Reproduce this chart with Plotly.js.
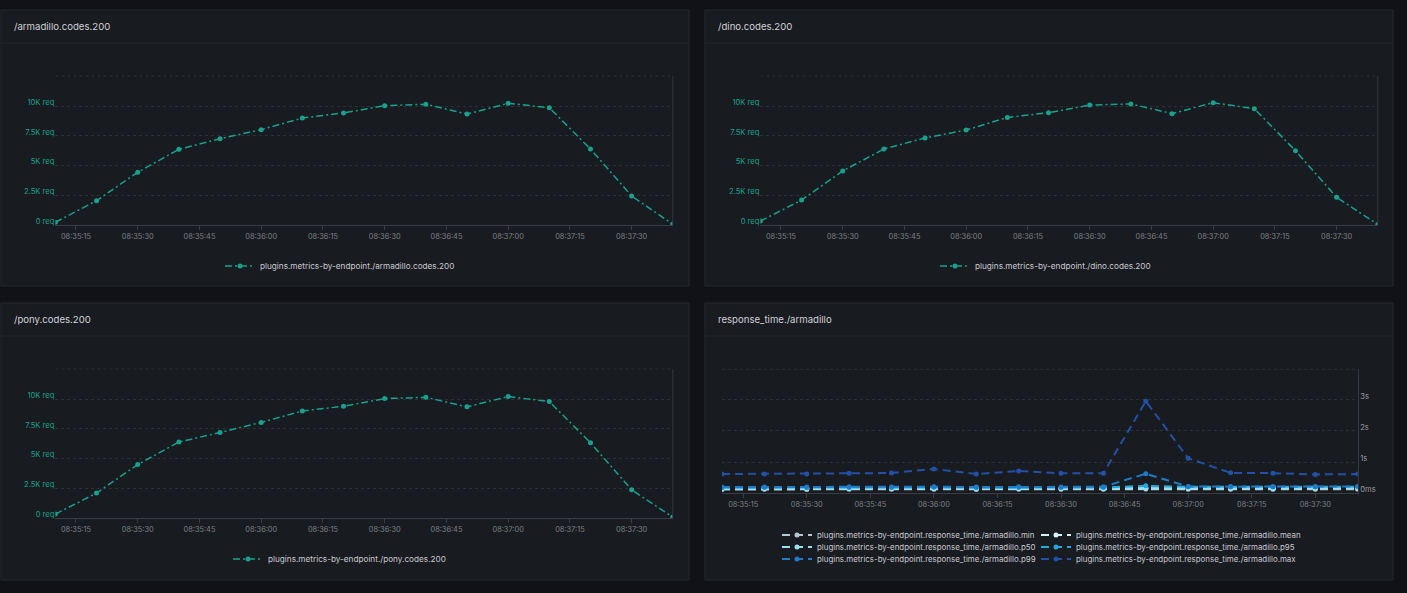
<!DOCTYPE html>
<html>
<head>
<meta charset="utf-8">
<script src="https://cdn.plot.ly/plotly-3.0.1.min.js"></script>
<style>
  html, body { margin: 0; padding: 0; background: #111217; }
  #plot { width: 1407px; height: 593px; }
</style>
</head>
<body>
<div id="plot"></div>
<script>
// sample times (every 10s)
var times = ['08:35:10', '08:35:20', '08:35:30', '08:35:40', '08:35:50', '08:36:00', '08:36:10', '08:36:20',
             '08:36:30', '08:36:40', '08:36:50', '08:37:00', '08:37:10', '08:37:20', '08:37:30', '08:37:40'];

// requests with code 200, per endpoint
var armadillo = [230, 2050, 4440, 6380, 7270, 8030, 9010, 9440, 10050, 10170, 9350, 10250, 9880, 6400, 2440, 60];
var dino      = [330, 2100, 4550, 6400, 7330, 8000, 9060, 9460, 10100, 10200, 9380, 10300, 9800, 6260, 2330, 50];
var pony      = [330, 2100, 4500, 6400, 7200, 8050, 9020, 9410, 10060, 10170, 9360, 10230, 9810, 6340, 2370, 80];

// response_time./armadillo in ms
var rtMin  = [115, 118, 115, 120, 118, 120, 115, 120, 118, 118, 125, 120, 118, 118, 120, 118];
var rtMean = [150, 152, 150, 155, 152, 158, 150, 155, 152, 152, 170, 160, 158, 158, 160, 160];
var rtP50  = [140, 142, 140, 145, 142, 148, 140, 145, 142, 142, 150, 150, 150, 150, 150, 150];
var rtP95  = [170, 175, 170, 178, 175, 182, 170, 180, 175, 178, 230, 200, 200, 200, 198, 205];
var rtP99  = [190, 195, 190, 200, 195, 205, 190, 200, 195, 203, 620, 210, 205, 205, 200, 210];
var rtMax  = [613, 613, 613, 635, 645, 774, 613, 710, 635, 635, 2960, 1120, 650, 640, 600, 610];

var codeTicks = [0, 2500, 5000, 7500, 10000];
var codeTickText = ['0 req', '2.5K req', '5K req', '7.5K req', '10K req'];
var rtTicks = [0, 1000, 2000, 3000];
var rtTickText = ['0ms', '1s', '2s', '3s'];

var W = 1407, H = 593;
var day = '2024-01-01 ';
var x = times.map(function (t) { return day + t; });

var teal = '#1aa18d';
var fontFam = 'Inter, "Open Sans", sans-serif';

function px(v) { return v / W; }
function py(v) { return 1 - v / H; }

function codeTrace(name, vals, xa, ya, leg) {
  return {
    x: x, y: vals, name: name, type: 'scatter', mode: 'lines+markers',
    xaxis: xa, yaxis: ya, legend: leg,
    line: { color: teal, width: 1.5, dash: '7px,3px,2px,3px' },
    marker: { color: teal, size: 5 }
  };
}

function rtTrace(name, vals, color, leg, lw) {
  return {
    x: x, y: vals, name: name, type: 'scatter', mode: 'lines+markers',
    xaxis: 'x4', yaxis: 'y4', legend: leg, legendwidth: lw,
    line: { color: color, width: 2, dash: '8px,5px' },
    marker: { color: color, size: 5 }
  };
}

var pre = 'plugins.metrics-by-endpoint.response_time./armadillo.';
var data = [
  codeTrace('plugins.metrics-by-endpoint./armadillo.codes.200', armadillo, 'x', 'y', 'legend'),
  codeTrace('plugins.metrics-by-endpoint./dino.codes.200', dino, 'x2', 'y2', 'legend2'),
  codeTrace('plugins.metrics-by-endpoint./pony.codes.200', pony, 'x3', 'y3', 'legend3'),
  rtTrace(pre + 'min', rtMin, '#b3c9cf', 'legend4', 214),
  rtTrace(pre + 'mean', rtMean, '#d4f4fa', 'legend4', 260),
  rtTrace(pre + 'p50', rtP50, '#9ae0f5', 'legend5', 214),
  rtTrace(pre + 'p95', rtP95, '#24a8e0', 'legend5', 260),
  rtTrace(pre + 'p99', rtP99, '#1f7bc8', 'legend6', 214),
  rtTrace(pre + 'max', rtMax, '#2350a8', 'legend6', 260)
];

function xaxis(left, right, anchor) {
  return {
    type: 'date', domain: [px(left), px(right)], anchor: anchor,
    range: [x[0], x[x.length - 1]],
    tick0: day + '08:35:15', dtick: 15000, tickformat: '%H:%M:%S',
    showgrid: false, zeroline: false,
    showline: true, linecolor: '#3a3d44', linewidth: 1,
    ticks: 'outside', ticklen: 4, tickcolor: '#3a3d44',
    tickfont: { family: fontFam, size: 7.4, color: '#7d8087' }
  };
}

function codeYaxis(top, bottom, anchor) {
  return {
    domain: [py(bottom), py(top)], anchor: anchor,
    range: [0, 12550], tickvals: codeTicks, ticktext: codeTickText,
    showgrid: true, gridcolor: '#2d3036', griddash: 'dot', zeroline: false,
    showline: false, ticks: '', ticklabelshift: -4,
    tickfont: { family: fontFam, size: 7.6, color: teal }
  };
}

var panels = [
  { x0: 1, x1: 689, y0: 10, y1: 286, title: '/armadillo.codes.200' },
  { x0: 705, x1: 1393, y0: 10, y1: 286, title: '/dino.codes.200' },
  { x0: 1, x1: 689, y0: 303, y1: 580, title: '/pony.codes.200' },
  { x0: 705, x1: 1393, y0: 303, y1: 580, title: 'response_time./armadillo' }
];

var shapes = [];
var annotations = [];
panels.forEach(function (p) {
  shapes.push({
    type: 'rect', xref: 'paper', yref: 'paper', layer: 'below',
    x0: px(p.x0), x1: px(p.x1), y0: py(p.y1), y1: py(p.y0),
    fillcolor: '#181b1f', line: { color: '#25282d', width: 1 }
  });
  shapes.push({
    type: 'line', xref: 'paper', yref: 'paper', layer: 'below',
    x0: px(p.x0), x1: px(p.x1), y0: py(p.y0 + 33), y1: py(p.y0 + 33),
    line: { color: '#23262b', width: 1 }
  });
  annotations.push({
    xref: 'paper', yref: 'paper', x: px(p.x0 + 11), y: py(p.y0 + 16),
    xanchor: 'left', yanchor: 'middle', showarrow: false, text: p.title,
    font: { family: fontFam, size: 9.6, color: '#d0d1d8' }
  });
});

// top dotted border and right axis line of each plot area
['', '2', '3', '4'].forEach(function (n) {
  shapes.push({
    type: 'line', xref: 'x' + n + ' domain', yref: 'y' + n + ' domain',
    x0: 0, x1: 1, y0: 1, y1: 1, line: { color: '#2d3036', width: 1, dash: 'dot' }
  });
  if (n !== '4') {
    shapes.push({
      type: 'line', xref: 'x' + n + ' domain', yref: 'y' + n + ' domain',
      x0: 1, x1: 1, y0: 0, y1: 1, line: { color: '#34373d', width: 1 }
    });
  }
});

function legendAt(textLeft, yc, size) {
  return {
    x: px(textLeft - 40), y: py(yc), xanchor: 'left', yanchor: 'middle',
    orientation: 'h', bgcolor: 'rgba(0,0,0,0)', borderwidth: 0,
    font: { family: fontFam, size: size, color: '#c8c9d1' }
  };
}

var layout = {
  width: W, height: H,
  margin: { l: 0, r: 0, t: 0, b: 0 },
  paper_bgcolor: '#111217',
  plot_bgcolor: 'rgba(0,0,0,0)',
  showlegend: true,
  hovermode: false,
  xaxis: xaxis(55.4, 672.8, 'y'),
  yaxis: codeYaxis(76, 225, 'x'),
  xaxis2: xaxis(760.4, 1377.8, 'y2'),
  yaxis2: codeYaxis(76, 225, 'x2'),
  xaxis3: xaxis(55.4, 672.8, 'y3'),
  yaxis3: codeYaxis(369, 518, 'x3'),
  xaxis4: xaxis(722, 1357.7, 'y4'),
  yaxis4: {
    domain: [py(493), py(369.3)], anchor: 'x4', side: 'right',
    range: [0, 3990], tickvals: rtTicks, ticktext: rtTickText,
    showgrid: true, gridcolor: '#2d3036', griddash: 'dot', zeroline: false,
    showline: true, linecolor: '#34373d', ticks: '', ticklabelshift: -4,
    tickfont: { family: fontFam, size: 7.6, color: '#9a9ca3' }
  },
  legend: legendAt(260, 266, 8.2),
  legend2: legendAt(975, 266, 8.2),
  legend3: legendAt(268, 559, 8.2),
  legend4: legendAt(817, 535, 7.9),
  legend5: legendAt(817, 547, 7.9),
  legend6: legendAt(817, 559, 7.9),
  shapes: shapes,
  annotations: annotations
};

Plotly.newPlot('plot', data, layout, { displayModeBar: false, staticPlot: true });
</script>
</body>
</html>
